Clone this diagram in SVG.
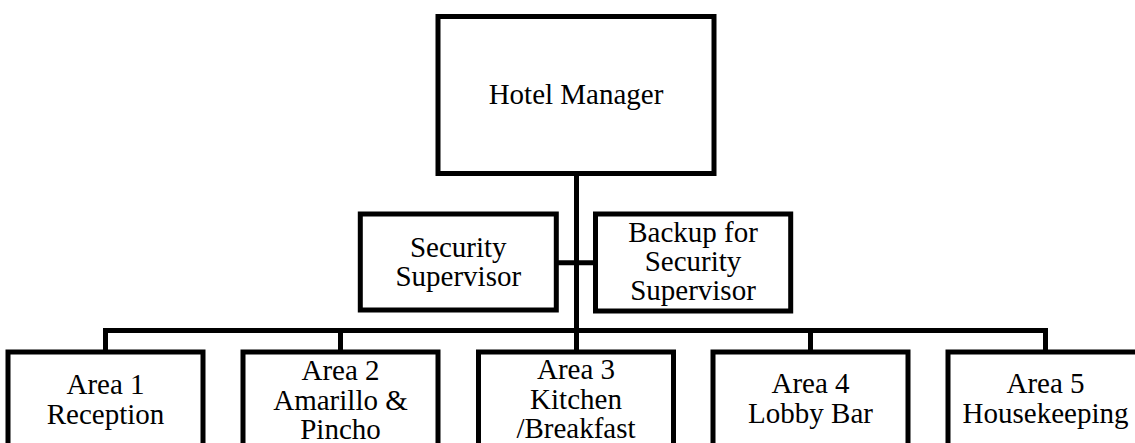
<svg xmlns="http://www.w3.org/2000/svg" width="1135" height="443" viewBox="0 0 1135 443">
<style>
.box{fill:#fff;stroke:#000;stroke-width:5;stroke-linejoin:miter}
.ln{fill:none;stroke:#000;stroke-width:5;stroke-linejoin:miter}
text{font-family:"Liberation Serif","Times New Roman",serif;font-size:29px;fill:#000;text-anchor:middle}
</style>
<rect width="1135" height="443" fill="#fff"/>
<g id="connectors">
<path class="ln" d="M576.5 173.5 V330.5"/>
<path class="ln" d="M556.3 262.7 H595.5"/>
<path class="ln" d="M105.5 352 V330.5 H1045.5 V352"/>
<path class="ln" d="M340.5 330.5 V352"/>
<path class="ln" d="M576.5 330.5 V352"/>
<path class="ln" d="M810.5 330.5 V352"/>
</g>
<g id="hotel-manager">
<rect class="box" x="438" y="16.5" width="276" height="157"/>
<text x="576" y="104">Hotel Manager</text>
</g>
<g id="security-supervisor">
<rect class="box" x="360.3" y="214" width="196" height="96"/>
<text x="458.3" y="257">Security</text>
<text x="458.3" y="286">Supervisor</text>
</g>
<g id="backup-security">
<rect class="box" x="595.5" y="214" width="195.2" height="97"/>
<text x="693" y="242">Backup for</text>
<text x="693" y="271">Security</text>
<text x="693" y="300">Supervisor</text>
</g>
<g id="area1">
<rect class="box" x="8" y="352" width="195" height="120"/>
<text x="105.5" y="394">Area 1</text>
<text x="105.5" y="424">Reception</text>
</g>
<g id="area2">
<rect class="box" x="243" y="352" width="195" height="120"/>
<text x="340.5" y="380">Area 2</text>
<text x="340.5" y="410">Amarillo &amp;</text>
<text x="340.5" y="439">Pincho</text>
</g>
<g id="area3">
<rect class="box" x="478.5" y="352" width="195" height="120"/>
<text x="576" y="379">Area 3</text>
<text x="576" y="409">Kitchen</text>
<text x="576" y="438">/Breakfast</text>
</g>
<g id="area4">
<rect class="box" x="713" y="352" width="195" height="120"/>
<text x="810.5" y="393">Area 4</text>
<text x="810.5" y="423">Lobby Bar</text>
</g>
<g id="area5">
<rect class="box" x="948" y="352" width="195" height="120"/>
<text x="1045.5" y="393">Area 5</text>
<text x="1045.5" y="423">Housekeeping</text>
</g>
</svg>
